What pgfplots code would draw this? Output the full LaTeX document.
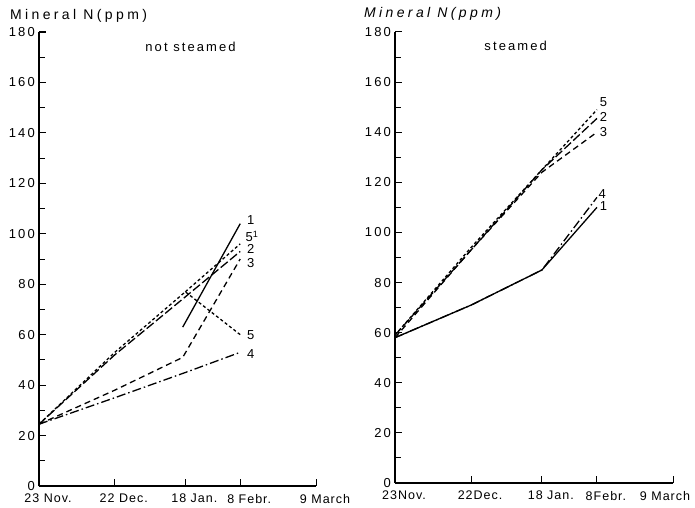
\documentclass[border=0pt]{standalone}
\usepackage{fontspec}
\setmainfont{Liberation Sans}[LetterSpace=16]
\usepackage{pgfplots}
\pgfplotsset{compat=1.18}

\tikzset{lab/.style={font=\fontsize{13}{15}\selectfont, inner sep=0pt}}
\pgfplotsset{
  panel/.style={
    scale only axis,
    axis lines=left,
    axis line style={-, line width=1.3pt},
    xmin=0, xmax=106, ymin=0, ymax=180,
    xtick={0,29,56,77,106},
    ytick={0,20,...,180},
    minor y tick num=1,
    tick align=inside,
    major tick length=7pt, minor tick length=6pt,
    tick style={line width=1pt, black},
    every tick label/.append style={font=\fontsize{13}{15}\selectfont},
    /pgf/number format/assume math mode=true,
    yticklabel style={anchor=east, inner sep=0pt, xshift=-4pt},
    xticklabel style={anchor=north, inner sep=0pt, yshift=-8pt, xshift=9pt,
      font=\fontsize{12.5}{15}\selectfont\addfontfeature{LetterSpace=8}},
    clip=false,
  },
  s1/.style={black, line width=1.3pt, solid},
  s2/.style={black, line width=1.3pt, dash pattern=on 9pt off 3pt},
  s3/.style={black, line width=1.3pt, dash pattern=on 6pt off 4pt},
  s4/.style={black, line width=1.3pt, dash pattern=on 9pt off 3pt on 1.5pt off 3pt},
  s5/.style={black, line width=1.3pt, dash pattern=on 3pt off 2.5pt},
}

\begin{document}
\begin{tikzpicture}
\useasboundingbox (-39pt,-21pt) rectangle (656pt,486pt);

% not steamed
\begin{axis}[panel, at={(0pt,0pt)}, anchor=origin, width=277pt, height=454pt,
    xticklabels={23 Nov.,22 Dec.,18 Jan.,8 Febr.,9 March}]
\addplot[s2] coordinates {(0,24.5)(29,52)(56,75)(77,93)};
\addplot[s5] coordinates {(0,24.5)(29,53)(56,77)(77,60)};
\addplot[s5] coordinates {(56,77)(77,96)};
\addplot[s3] coordinates {(0,24.5)(29,38)(55,51)(77,90)};
\addplot[s4] coordinates {(0,24.5)(29,35)(56,45)(77,53)};
\addplot[s1] coordinates {(55,63)(77,104)};
\node[lab] at (axis cs:81,105.5) {1};
\node[lab] at (axis cs:81.5,99) {5\textsuperscript{1}};
\node[lab] at (axis cs:81,94) {2};
\node[lab] at (axis cs:81,88.5) {3};
\node[lab] at (axis cs:81,60) {5};
\node[lab] at (axis cs:81,52.5) {4};
\node[lab] at (axis cs:58,174) {not steamed};
\node[lab, font=\fontsize{14}{16}\selectfont\addfontfeature{LetterSpace=24}, anchor=base west] at ([xshift=-29pt, yshift=13pt]rel axis cs:0,1) {Mineral N(ppm)};
\end{axis}

% steamed
\begin{axis}[panel, at={(356pt,3pt)}, anchor=origin, width=278pt, height=451pt,
    xticklabels={23Nov.,22Dec.,18 Jan.,8Febr.,{\hspace*{-34pt}9 March}}]
\addplot[s5] coordinates {(0,59)(29,94)(56,125)(77,149)};
\addplot[s2] coordinates {(0,59)(29,93)(56,125)(77,145.5)};
\addplot[s3] coordinates {(0,58)(29,93)(56,124)(77,140)};
\addplot[s4] coordinates {(0,58)(29,71)(56,85)(77,114)};
\addplot[s1] coordinates {(0,58)(29,71)(56,85)(77,110)};
\node[lab] at (axis cs:79.5,152) {5};
\node[lab] at (axis cs:79.5,146) {2};
\node[lab] at (axis cs:79.5,140) {3};
\node[lab] at (axis cs:79,115.5) {4};
\node[lab] at (axis cs:79.5,110.5) {1};
\node[lab] at (axis cs:46,174.5) {steamed};
\node[lab, font=\fontsize{14}{16}\selectfont\itshape\addfontfeature{LetterSpace=24}, anchor=base west] at ([xshift=-31pt, yshift=14pt]rel axis cs:0,1) {Mineral N(ppm)};
\end{axis}
\end{tikzpicture}
\end{document}
